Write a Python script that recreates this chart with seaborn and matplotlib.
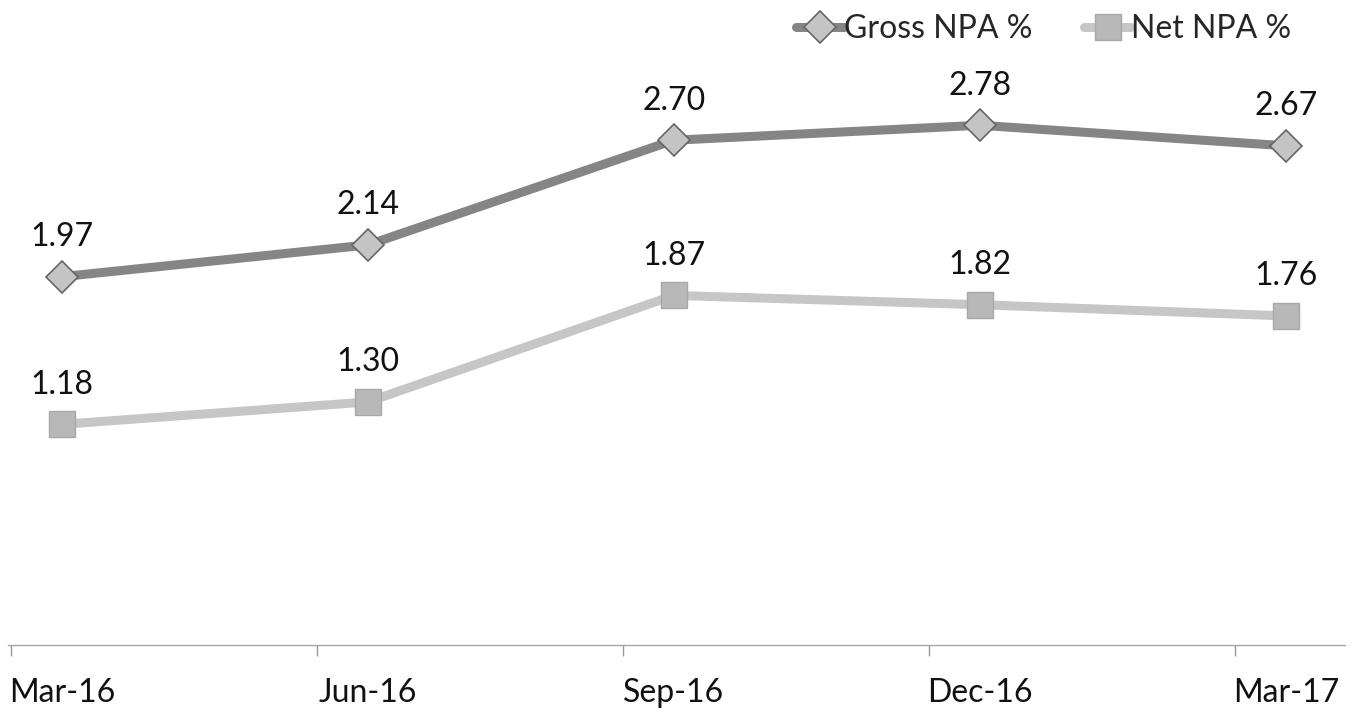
import numpy as np
import pandas as pd
import seaborn as sns
import matplotlib.pyplot as plt
from matplotlib.lines import Line2D

quarters = ["Mar-16", "Jun-16", "Sep-16", "Dec-16", "Mar-17"]
gross_npa = [1.97, 2.14, 2.70, 2.78, 2.67]
net_npa = [1.18, 1.30, 1.87, 1.82, 1.76]

sns.set_style("white")
plt.rcParams["font.family"] = ["Lato", "DejaVu Sans"]

pos = np.arange(len(quarters))
df = pd.DataFrame({"pos": pos, "Gross NPA %": gross_npa, "Net NPA %": net_npa})

fig = plt.figure(figsize=(13.57, 7.13), dpi=100)
ax = fig.add_axes([0.0059, 0.0954, 0.9853, 0.9046])

# gross line - darker gray, diamonds
sns.lineplot(data=df, x="pos", y="Gross NPA %", ax=ax, color="#858585", lw=6.5,
             marker="D", markersize=16, markerfacecolor="#c4c4c4",
             markeredgecolor="#666666", markeredgewidth=1.2, zorder=3)
# net line - lighter gray, squares
sns.lineplot(data=df, x="pos", y="Net NPA %", ax=ax, color="#c6c6c6", lw=6.5,
             marker="s", markersize=19, markerfacecolor="#b8b8b8",
             markeredgecolor="#a8a8a8", markeredgewidth=1.0, zorder=3)

for x, g, n in zip(pos, gross_npa, net_npa):
    ax.annotate(f"{g:.2f}", (x, g), xytext=(0, 22), textcoords="offset points",
                ha="center", va="baseline", fontsize=23, color="#111111")
    ax.annotate(f"{n:.2f}", (x, n), xytext=(0, 22), textcoords="offset points",
                ha="center", va="baseline", fontsize=23, color="#111111")

ax.set_xlim(-0.176, 4.193)
ax.set_ylim(0, 3.45)
ax.set_xlabel("")
ax.set_ylabel("")
ax.set_yticks([])
ax.set_xticks(pos)
ax.set_xticklabels(quarters, fontsize=23, color="#111111")
ax.set_xticks(pos - 1 / 6, minor=True)
ax.tick_params(axis="x", which="major", length=0, pad=24)
ax.tick_params(axis="x", which="minor", length=8, width=1, color="#9a9a9a", bottom=True)

for s in ["top", "left", "right"]:
    ax.spines[s].set_visible(False)
ax.spines["bottom"].set_color("#a6a6a6")
ax.spines["bottom"].set_linewidth(1)

handles = [
    Line2D([], [], color="#858585", lw=6.5, marker="D", markersize=16,
           markerfacecolor="#c4c4c4", markeredgecolor="#666666", markeredgewidth=1.2),
    Line2D([], [], color="#c6c6c6", lw=6.5, marker="s", markersize=19,
           markerfacecolor="#b8b8b8", markeredgecolor="#a8a8a8", markeredgewidth=1.0),
]
fig.legend(handles, ["Gross NPA %", "Net NPA %"], loc="upper right",
           bbox_to_anchor=(0.973, 1.02), ncol=2, frameon=False, fontsize=23,
           handlelength=1.5, handletextpad=0.0, columnspacing=1.6)

fig.savefig("out.png", dpi=100, facecolor="white")
